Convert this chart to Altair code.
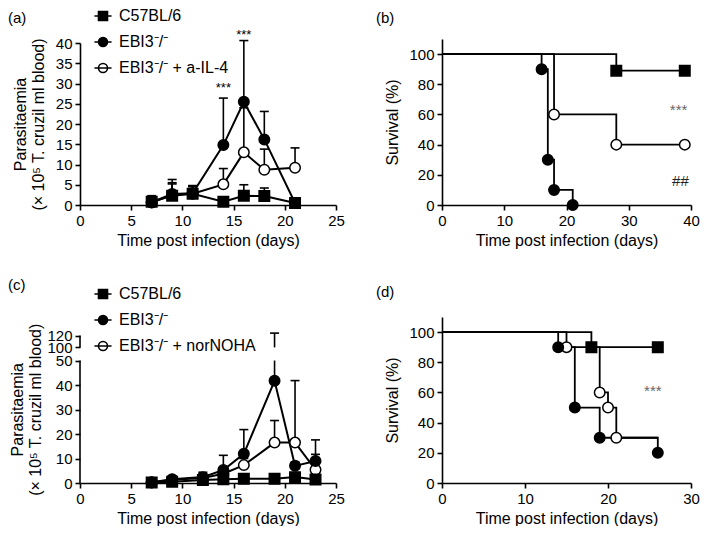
import altair as alt
import pandas as pd

FONT = "Liberation Sans"
H = 166
W1 = 256
W2 = 249

# ---------------- data: panel (a) ----------------
a_groups = ["C57BL/6", "EBI3⁻/⁻", "EBI3⁻/⁻ + a-IL-4"]
a_days = [7, 9, 11, 14, 16, 18, 21]
a_c57_mean = [0.8, 2.3, 2.8, 0.8, 2.3, 2.2, 0.5]
a_c57_upper = [2.3, 5.5, 4.7, 1.0, 5.0, 4.2, 0.8]
a_ebi3_mean = [0.7, 2.7, 2.9, 14.8, 25.5, 16.2, 0.5]
a_ebi3_upper = [1.8, 6.3, 4.8, 26.4, 40.6, 23.1, 0.8]
a_il4_mean = [0.6, 2.5, 2.8, 5.1, 13.0, 8.7, 9.2]
a_il4_upper = [1.5, 5.2, 4.5, 9.0, 24.0, 13.8, 14.1]
a_star_x = [14, 16]
a_star_y = [29.0, 42.0]

# ---------------- data: panel (b) ----------------
b_c57_days = [0, 28, 39]
b_c57_surv = [100, 89, 89]
b_ebi3_days = [0, 16, 17, 18, 21]
b_ebi3_surv = [100, 90, 30, 10, 0]
b_il4_days = [0, 18, 28, 39]
b_il4_surv = [100, 60, 40, 40]
b_text = ["***", "##"]
b_text_x = [38, 38.3]
b_text_y = [63, 16]
b_text_color = ["#666666", "#222222"]

# ---------------- data: panel (c) ----------------
c_groups = ["C57BL/6", "EBI3⁻/⁻", "EBI3⁻/⁻ + norNOHA"]
c_days = [7, 9, 12, 14, 16, 19, 21, 23]
c_c57_mean = [0.2, 0.5, 1.2, 1.5, 1.7, 1.7, 2.4, 1.4]
c_c57_upper = [0.8, 1.5, 2.5, 2.5, 2.6, 2.3, 3.5, 2.5]
c_ebi3_mean = [0.3, 1.5, 2.4, 5.3, 11.9, 41.7, 7.0, 9.0]
c_ebi3_upper = [1.0, 2.5, 4.4, 11.3, 21.8, 124.0, 8.5, 17.6]
c_nor_mean = [0.2, 1.3, 2.0, 3.8, 7.3, 16.5, 16.5, 5.4]
c_nor_upper = [0.8, 2.2, 3.5, 6.0, 10.0, 25.5, 41.8, 11.7]

# ---------------- data: panel (d) ----------------
d_c57_days = [0, 18, 26]
d_c57_surv = [100, 90, 90]
d_c57_mark = [False, True, True]
d_ebi3_days = [0, 14, 16, 19, 26]
d_ebi3_surv = [100, 90, 50, 30, 20]
d_ebi3_mark = [False, True, True, True, True]
d_nor_days = [0, 15, 19, 20, 21, 26]
d_nor_surv = [100, 90, 60, 50, 30, 30]
d_nor_mark = [False, True, True, True, True, False]
d_text = ["***"]
d_text_x = [25.4]
d_text_y = [61]
d_text_color = ["#666666"]

# legend symbols: marker with a line through it
SQ_PATH = "M-1.9,0H1.9M-1,-1H1V1H-1Z"
CI_PATH = "M-1.9,0H1.9M-1,0A1,1,0,1,0,1,0A1,1,0,1,0,-1,0Z"
MARKERS = [("square", "black"), ("circle", "black"), ("circle", "white")]

XTITLE = "Time post infection (days)"
PTITLE = ["Parasitaemia", "(× 10⁵ T. cruzil ml blood)"]


def ts_frame(days, groups, means, uppers):
    rows = []
    for g, m, u in reversed(list(zip(groups, means, uppers))):
        for d, mv, uv in zip(days, m, u):
            rows.append({"day": d, "group": g, "val": mv, "upper": uv})
    return pd.DataFrame(rows)


def label_layer(text, lx, ly):
    return alt.Chart(pd.DataFrame({"t": [text]})).mark_text(
        font=FONT, fontSize=15, align="left", baseline="alphabetic", color="black"
    ).encode(x=alt.value(lx), y=alt.value(ly), text="t:N")


def point_layers(df, groups, xs, yenc):
    out = []
    # open circles first, squares last (on top)
    for g, (shp, fill) in reversed(list(zip(groups, MARKERS))):
        out.append(alt.Chart(df).transform_filter(alt.datum.group == g).mark_point(
            shape=shp, fill=fill, filled=True, stroke="black", strokeWidth=1.5,
            size=110, opacity=1).encode(x=xs, y=yenc))
    return out


def ts_panel(df, groups, yscale, yaxis, stars_df, label, label_y, broken=False):
    xs = alt.X("day:Q", scale=alt.Scale(domain=[0, 25], nice=False),
               axis=alt.Axis(values=[0, 5, 10, 15, 20, 25], title=XTITLE))

    def Y(field):
        return alt.Y(field, scale=yscale, axis=yaxis)

    base = alt.Chart(df)
    leg = alt.Legend(
        orient="none", legendX=15, legendY=-31, title=None,
        labelFont=FONT, labelFontSize=16, labelColor="black",
        symbolSize=81, symbolStrokeWidth=1.6,
        labelOffset=8, rowPadding=10, padding=0,
    )
    layers = []
    if broken:
        d2 = df.copy()
        d2["lo_top"] = d2["upper"].clip(upper=50)
        d2["hi_lo"] = 100.0
        b2 = alt.Chart(d2)
        layers.append(b2.mark_rule(color="black", strokeWidth=1.6).encode(
            x=xs, y=Y("val:Q"), y2="lo_top:Q"))
        layers.append(b2.transform_filter("datum.upper > 100").mark_rule(
            color="black", strokeWidth=1.6).encode(x=xs, y=Y("hi_lo:Q"), y2="upper:Q"))
        # broken y axis line: 0-50 and 100-120
        layers.append(alt.Chart(pd.DataFrame({"day": [0, 0], "y0": [0, 100], "y1": [50, 120]}))
                      .mark_rule(color="black", strokeWidth=1.6)
                      .encode(x=xs, y=Y("y0:Q"), y2="y1:Q"))
    else:
        layers.append(base.mark_rule(color="black", strokeWidth=1.6).encode(
            x=xs, y=Y("val:Q"), y2="upper:Q"))
    layers.append(base.mark_tick(orient="horizontal", size=9, thickness=1.6,
                                 color="black", opacity=1).encode(x=xs, y=Y("upper:Q")))
    layers.append(base.mark_line(color="black", strokeWidth=2).encode(
        x=xs, y=Y("val:Q"), detail="group:N"))
    layers += point_layers(df, groups, xs, Y("val:Q"))
    # legend-only layer (no rows drawn): symbols are a marker with a line through it
    layers.append(base.transform_filter("false").mark_point(
        filled=True, strokeWidth=1.6, opacity=1).encode(
        x=xs, y=Y("val:Q"),
        shape=alt.Shape("group:N", scale=alt.Scale(domain=groups, range=[SQ_PATH, CI_PATH, CI_PATH]),
                        legend=leg),
        fill=alt.Fill("group:N", scale=alt.Scale(domain=groups, range=["black", "black", "white"]),
                      legend=leg),
        stroke=alt.Stroke("group:N", scale=alt.Scale(domain=groups, range=["black"] * 3),
                          legend=leg)))
    if stars_df is not None:
        layers.append(alt.Chart(stars_df).mark_text(
            font=FONT, fontSize=13, color="black").encode(
            x=xs, y=Y("val:Q"), text="t:N"))
    layers.append(label_layer(label, -72, label_y))
    return alt.layer(*layers).properties(width=W1, height=H)


def surv_frames(series):
    lines, pts = [], []
    for g, days, surv, marks in reversed(series):
        for i, (d, s, m) in enumerate(zip(days, surv, marks)):
            lines.append({"day": d, "surv": s, "group": g, "i": i})
            if m:
                pts.append({"day": d, "surv": s, "group": g})
    return pd.DataFrame(lines), pd.DataFrame(pts)


def surv_panel(series, groups, xmax, xvalues, text_df, label, label_y):
    ldf, pdf = surv_frames(series)
    xs = alt.X("day:Q", scale=alt.Scale(domain=[0, xmax], nice=False),
               axis=alt.Axis(values=xvalues, title=XTITLE))
    ys = alt.Y("surv:Q", scale=alt.Scale(domain=[0, 110], nice=False),
               axis=alt.Axis(values=[0, 20, 40, 60, 80, 100], title="Survival (%)",
                             titlePadding=8))
    line = alt.Chart(ldf).mark_line(interpolate="step-after", color="black",
                                    strokeWidth=1.8).encode(
        x=xs, y=ys, detail="group:N", order="i:Q")
    pts = point_layers(pdf, groups, xs, ys)
    txt = alt.Chart(text_df).mark_text(font=FONT, fontSize=15).encode(
        x=xs, y=ys, text="t:N", color=alt.Color("c:N", scale=None))
    return alt.layer(line, *pts, txt, label_layer(label, -66, label_y)).properties(
        width=W2, height=H)


# ---- panel (a)
df_a = ts_frame(a_days, a_groups,
                [a_c57_mean, a_ebi3_mean, a_il4_mean],
                [a_c57_upper, a_ebi3_upper, a_il4_upper])
stars_a = pd.DataFrame({"day": a_star_x, "val": a_star_y, "t": ["***"] * len(a_star_x)})
ys_a = alt.Scale(domain=[0, 40], range=[H, 4], nice=False)
yax_a = alt.Axis(values=[0, 5, 10, 15, 20, 25, 30, 35, 40], title=PTITLE, titlePadding=9)
panel_a = ts_panel(df_a, a_groups, ys_a, yax_a, stars_a, "(a)", -16)

# ---- panel (b)
b_series = [
    (a_groups[0], b_c57_days, b_c57_surv, [d > 0 for d in b_c57_days]),
    (a_groups[1], b_ebi3_days, b_ebi3_surv, [d > 0 for d in b_ebi3_days]),
    (a_groups[2], b_il4_days, b_il4_surv, [d > 0 for d in b_il4_days]),
]
text_b = pd.DataFrame({"day": b_text_x, "surv": b_text_y, "t": b_text, "c": b_text_color})
panel_b = surv_panel(b_series, a_groups, 40, [0, 10, 20, 30, 40], text_b, "(b)", -16)

# ---- panel (c)
df_c = ts_frame(c_days, c_groups,
                [c_c57_mean, c_ebi3_mean, c_nor_mean],
                [c_c57_upper, c_ebi3_upper, c_nor_upper])
ys_c = alt.Scale(domain=[0, 50, 100, 120], range=[H, 43.5, 30.4, 18.5], nice=False, zero=False)
yax_c = alt.Axis(values=[0, 10, 20, 30, 40, 50, 100, 120], title=PTITLE, domain=False,
                 titlePadding=3)
panel_c = ts_panel(df_c, c_groups, ys_c, yax_c, None, "(c)", -27, broken=True)

# ---- panel (d)
d_series = [
    (c_groups[0], d_c57_days, d_c57_surv, d_c57_mark),
    (c_groups[1], d_ebi3_days, d_ebi3_surv, d_ebi3_mark),
    (c_groups[2], d_nor_days, d_nor_surv, d_nor_mark),
]
text_d = pd.DataFrame({"day": d_text_x, "surv": d_text_y, "t": d_text, "c": d_text_color})
panel_d = surv_panel(d_series, c_groups, 30, [0, 10, 20, 30], text_d, "(d)", -20)

chart = alt.concat(
    panel_a, panel_b, panel_c, panel_d,
    columns=2, spacing={"row": 112, "column": 106}, bounds="flush",
).resolve_scale(
    shape="independent", fill="independent", stroke="independent"
).resolve_legend(
    shape="independent", fill="independent", stroke="independent"
).properties(
    padding=0
).configure_axis(
    labelFont=FONT, labelFontSize=15, labelColor="black",
    titleFont=FONT, titleFontSize=16, titleFontWeight="normal", titleColor="black",
    domainColor="black", tickColor="black", domainWidth=1.6, tickWidth=1.6,
    tickSize=5, grid=False, labelFlush=False, labelOverlap=False, labelPadding=3,
).configure_axisX(
    titlePadding=4
).configure_view(
    strokeWidth=0
)

chart.save("out.html", embed_options={"renderer": "svg", "actions": False})
